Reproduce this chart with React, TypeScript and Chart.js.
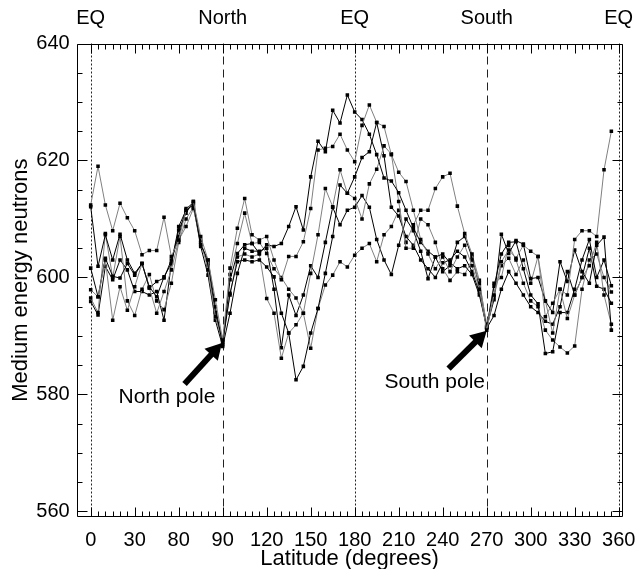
import React, { useEffect, useRef } from 'react';
import { Chart, registerables } from 'chart.js';

Chart.register(...registerables);

const FONT = "'Liberation Sans', Arial, Helvetica, sans-serif";
const BLACK = '#000000';
const GRAY = '#808080';

const LATITUDES = [0, 5, 10, 15, 20, 25, 30, 35, 40, 45, 50, 55, 60, 65, 70, 75, 80, 85,
  90, 95, 100, 105, 110, 115, 120, 125, 130, 135, 140, 145, 150, 155, 160, 165, 170, 175,
  180, 185, 190, 195, 200, 205, 210, 215, 220, 225, 230, 235, 240, 245, 250, 255, 260, 265,
  270, 275, 280, 285, 290, 295, 300, 305, 310, 315, 320, 325, 330, 335, 340, 345, 350, 355];

const SERIES_G1 = [612.4, 619, 612.4, 608, 612.7, 610.2, 608, 603.9, 604.6, 604.6, 610.3, 603.6, 606.4, 611.5, 613, 607, 603, 596.2,
  589.3, 601.6, 608.4, 613.5, 607.3, 606.4, 607, 603, 599.6, 603.6, 603.6, 606.1, 611.8, 621.8, 622.1, 622.4, 624.5, 621.8,
  619.8, 626, 629.5, 626.5, 625.8, 621, 618, 616.4, 611.5, 606.5, 604, 601.5, 603.5, 601, 603.5, 605.5, 602, 598,
  591, 597, 602.7, 604.7, 603.3, 605.5, 604.5, 603.6, 593.3, 595.6, 598, 597, 606.5, 608, 608, 607, 618.4, 625];

const SERIES_B1 = [612.1, 601.9, 607.3, 603, 607.4, 603, 600.7, 602.4, 598.2, 599.3, 599.9, 603, 607, 611.8, 612.7, 605.6, 603, 595,
  588.5, 599.6, 604.1, 605.6, 605.8, 604.1, 605.6, 605.3, 605.8, 608.7, 612.1, 608.1, 617.2, 623.3, 621.5, 628.6, 626.4, 631.2,
  628.3, 627, 624.5, 621, 617, 616.5, 614.5, 611.5, 608.5, 606, 604.5, 603.5, 604, 602.5, 601.5, 602, 600.5, 597,
  591.5, 596.2, 607.4, 604.1, 606.3, 605.7, 599.8, 600, 596, 594, 602.7, 599.3, 604.7, 601, 599, 605.5, 606.9, 591];

const SERIES_B2 = [601.6, 596.7, 603.3, 600.2, 599.9, 602.4, 600.4, 602.4, 598.4, 596.7, 600.1, 602.4, 608.1, 611, 613, 605.9, 602.4, 593.9,
  588.8, 597.3, 602.7, 603, 602.7, 603, 601.8, 600.1, 593.9, 590.5, 582.5, 584.8, 590.5, 594.7, 600.7, 607, 615.8, 614.4,
  617.2, 620.5, 621.5, 626.5, 620.8, 612, 610.5, 607, 605.5, 603, 601.5, 600, 602.5, 603, 604.5, 603.5, 601, 597.5,
  591.5, 598.5, 604, 606, 606.1, 601.5, 597, 595.5, 587, 587.3, 594, 594, 598, 603, 606.5, 600, 603, 598.6];

const SERIES_G2 = [597.9, 596.7, 603, 592.7, 598.4, 594.4, 598.4, 602.4, 598.2, 593.9, 597.6, 601.3, 606.4, 608.7, 611.8, 606.4, 601.3, 593.3,
  589, 600.5, 605.8, 611, 605.8, 606, 604.1, 601.5, 600, 598, 596.5, 593.9, 600.7, 607.3, 615.2, 612.1, 618.4, 614.4,
  613.5, 610, 616, 618.5, 622.5, 621.1, 613, 605, 605, 610, 609, 606, 601.5, 599.5, 601, 600.5, 603, 599,
  592, 596.8, 602, 603.3, 600.5, 603, 599, 603.6, 596, 590.5, 598, 593, 597, 600, 602, 606, 597, 592];

const SERIES_B3 = [595.9, 593.6, 601.9, 599.6, 603, 601.3, 597.6, 597.6, 597, 597.6, 592.7, 602.4, 608.7, 611.5, 612.4, 605.3, 600.4, 592.7,
  588.2, 593.9, 600.7, 605, 604.5, 604.5, 605, 598, 588, 597, 593.5, 597, 602, 600, 606, 612, 609, 611.5,
  612, 614, 612, 606.5, 603, 600.5, 605.5, 610, 608, 604.5, 599.8, 603.5, 601, 602, 606, 607, 603.5, 598.5,
  591.3, 593.5, 598, 601, 599, 597, 595, 594, 592.5, 592, 595, 601, 597, 600, 605, 598.5, 598, 595.6];

const SERIES_G3 = [596.5, 594, 607.5, 600, 607, 596, 593.5, 598, 600.5, 596, 594.5, 599, 606, 610, 612, 606, 602, 594,
  589.5, 597, 603.5, 604, 603.5, 604, 596.4, 593.9, 586.2, 590.5, 591.9, 593.9, 587.9, 594.7, 598.7, 600.4, 602.7, 601.8,
  603.8, 605, 605.8, 602.7, 607.3, 608.7, 611.5, 606, 609, 611.5, 611.5, 615.2, 617.2, 617.8, 612.2, 607.5, 604, 599.5,
  591.5, 599, 600, 605.5, 603, 599, 596, 595, 591, 589.3, 588.1, 587.1, 588.3, 598, 603, 604, 600, 597.5];

const SERIES = [
  { name: 'orbit 1', color: GRAY, values: SERIES_G1 },
  { name: 'orbit 2', color: BLACK, values: SERIES_B1 },
  { name: 'orbit 3', color: GRAY, values: SERIES_G2 },
  { name: 'orbit 4', color: BLACK, values: SERIES_B2 },
  { name: 'orbit 5', color: GRAY, values: SERIES_G3 },
  { name: 'orbit 6', color: BLACK, values: SERIES_B3 },
];

const X_TICKS = [0, 30, 60, 90, 120, 150, 180, 210, 240, 270, 300, 330, 360];
const X_TICK_LABELS = ['0', '30', '80', '90', '120', '150', '180', '210', '240', '270', '300', '330', '360'];
const TOP_TICKS = [0, 90, 180, 270, 360];
const TOP_LABELS = ['EQ', 'North', 'EQ', 'South', 'EQ'];
const Y_TICKS = [560, 580, 600, 620, 640];
const Y_TICK_LABELS = ['560', '580', '600', '620', '640'];
const DOTTED_LINES = [0, 180, 360];
const DASHED_LINES = [90, 270];

const X_MIN = -9.54;
const X_MAX = 362.6;
const Y_MIN = 559.1;
const Y_MAX = 640;

const ANNOTATIONS = [
  { text: 'North pole', textAt: [52, 579.6], tail: [64.0, 581.8], tip: [89.5, 588.8] },
  { text: 'South pole', textAt: [234.6, 582.1], tail: [244.0, 584.4], tip: [270, 590.9] },
];

const decorPlugin = {
  id: 'decor',
  beforeDatasetsDraw(chart: any) {
    const { ctx, chartArea: a } = chart;
    const x = chart.scales.x;
    ctx.save();
    ctx.lineWidth = 1;
    ctx.strokeStyle = '#222';
    const vline = (v: number, dash: number[]) => {
      const px = Math.round(x.getPixelForValue(v)) + 0.5;
      ctx.setLineDash(dash);
      ctx.beginPath();
      ctx.moveTo(px, a.top);
      ctx.lineTo(px, a.bottom);
      ctx.stroke();
    };
    DOTTED_LINES.forEach((v) => vline(v, [2, 2]));
    DASHED_LINES.forEach((v) => vline(v, [8, 5]));
    ctx.restore();
  },
  afterDatasetsDraw(chart: any) {
    const { ctx, chartArea: a } = chart;
    const x = chart.scales.x;
    const y = chart.scales.y;
    ctx.save();
    ctx.setLineDash([]);
    ctx.strokeStyle = '#000';
    ctx.lineWidth = 1;
    const L = Math.round(a.left) + 0.5;
    const R = Math.round(a.right) - 0.5;
    const T = Math.round(a.top) + 0.5;
    const B = Math.round(a.bottom) - 0.5;
    ctx.beginPath();
    ctx.rect(L, T, R - L, B - T);
    ctx.stroke();
    ctx.beginPath();
    for (let v = 0; v <= 360; v += 5) {
      const px = Math.round(x.getPixelForValue(v)) + 0.5;
      const len = v % 30 === 0 ? 9 : 5;
      ctx.moveTo(px, B);
      ctx.lineTo(px, B - len);
      ctx.moveTo(px, T);
      ctx.lineTo(px, T + len);
    }
    for (let v = 560; v <= 640; v += 5) {
      const py = Math.round(y.getPixelForValue(v)) + 0.5;
      const len = v % 20 === 0 ? 10 : 5;
      ctx.moveTo(L, py);
      ctx.lineTo(L + len, py);
      ctx.moveTo(R, py);
      ctx.lineTo(R - len, py);
    }
    ctx.stroke();

    ctx.fillStyle = '#000';
    ANNOTATIONS.forEach((an) => {
      const sx = x.getPixelForValue(an.tail[0]);
      const sy = y.getPixelForValue(an.tail[1]);
      const tx = x.getPixelForValue(an.tip[0]);
      const ty = y.getPixelForValue(an.tip[1]);
      const ang = Math.atan2(ty - sy, tx - sx);
      const head = 16;
      const half = 9;
      const c = Math.cos(ang);
      const s = Math.sin(ang);
      const bx = tx - head * c;
      const by = ty - head * s;
      ctx.lineWidth = 6;
      ctx.lineCap = 'butt';
      ctx.beginPath();
      ctx.moveTo(sx, sy);
      ctx.lineTo(bx + 2 * c, by + 2 * s);
      ctx.stroke();
      ctx.beginPath();
      ctx.moveTo(tx, ty);
      ctx.lineTo(bx - half * s, by + half * c);
      ctx.lineTo(bx + half * s, by - half * c);
      ctx.closePath();
      ctx.fill();
      ctx.font = `21px ${FONT}`;
      ctx.textAlign = 'center';
      ctx.textBaseline = 'middle';
      ctx.fillText(an.text, x.getPixelForValue(an.textAt[0]), y.getPixelForValue(an.textAt[1]));
    });
    ctx.restore();
  },
};

export default function App() {
  const ref = useRef<HTMLCanvasElement>(null);
  useEffect(() => {
    const canvas = ref.current;
    if (!canvas) return;
    const tickFont = { family: FONT, size: 20 };
    const chart = new Chart(canvas, {
      type: 'line',
      data: {
        datasets: SERIES.map((s) => ({
          label: s.name,
          data: LATITUDES.map((lat, i) => ({ x: lat, y: s.values[i] })),
          borderColor: s.color,
          borderWidth: 1,
          pointStyle: 'rect',
          pointRadius: 2.5,
          pointHoverRadius: 2.5,
          pointBackgroundColor: '#000',
          pointBorderWidth: 0,
          tension: 0,
          fill: false,
        })),
      },
      options: {
        responsive: false,
        animation: false,
        devicePixelRatio: 1,
        layout: { padding: { left: 0, right: 15.5, top: 0, bottom: 0 } },
        plugins: { legend: { display: false }, tooltip: { enabled: false } },
        events: [],
        scales: {
          x: {
            type: 'linear',
            position: 'bottom',
            min: X_MIN,
            max: X_MAX,
            afterBuildTicks: (s: any) => { s.ticks = X_TICKS.map((v) => ({ value: v })); },
            afterFit: (s: any) => { s.height = 52.3; s.paddingLeft = 0; s.paddingRight = 0; },
            ticks: {
              callback: (v: any) => X_TICK_LABELS[X_TICKS.indexOf(Number(v))] ?? '',
              font: tickFont,
              color: '#000',
              padding: 12,
              maxRotation: 0,
              autoSkip: false,
            },
            grid: { display: false, drawTicks: false },
            border: { display: false },
            title: {
              display: true,
              text: 'Latitude (degrees)',
              font: { family: FONT, size: 22, lineHeight: 1 },
              color: '#000',
              padding: { top: 0, bottom: -1 },
            },
          },
          xTop: {
            type: 'linear',
            axis: 'x',
            position: 'top',
            min: X_MIN,
            max: X_MAX,
            afterBuildTicks: (s: any) => { s.ticks = TOP_TICKS.map((v) => ({ value: v })); },
            afterFit: (s: any) => { s.height = 43.5; s.paddingLeft = 0; s.paddingRight = 0; },
            ticks: {
              callback: (v: any) => TOP_LABELS[TOP_TICKS.indexOf(Number(v))] ?? '',
              font: tickFont,
              color: '#000',
              padding: 13,
              maxRotation: 0,
              autoSkip: false,
            },
            grid: { display: false, drawTicks: false },
            border: { display: false },
          },
          y: {
            type: 'linear',
            position: 'left',
            min: Y_MIN,
            max: Y_MAX,
            afterBuildTicks: (s: any) => { s.ticks = Y_TICKS.map((v) => ({ value: v })); },
            afterFit: (s: any) => { s.width = 76.7; },
            ticks: {
              callback: (v: any) => Y_TICK_LABELS[Y_TICKS.indexOf(Number(v))] ?? '',
              font: tickFont,
              color: '#000',
              padding: 7,
              autoSkip: false,
            },
            grid: { display: false, drawTicks: false },
            border: { display: false },
            title: {
              display: true,
              text: 'Medium energy neutrons',
              font: { family: FONT, size: 22, lineHeight: 1 },
              color: '#000',
              padding: { top: 10, bottom: 0 },
            },
          },
        },
      },
      plugins: [decorPlugin],
    } as any);
    return () => chart.destroy();
  }, []);
  return (
    <div style={{ position: 'absolute', left: 0, top: 0, width: 638, height: 569 }}>
      <canvas ref={ref} width={638} height={569} style={{ display: 'block', width: 638, height: 569 }} />
    </div>
  );
}
